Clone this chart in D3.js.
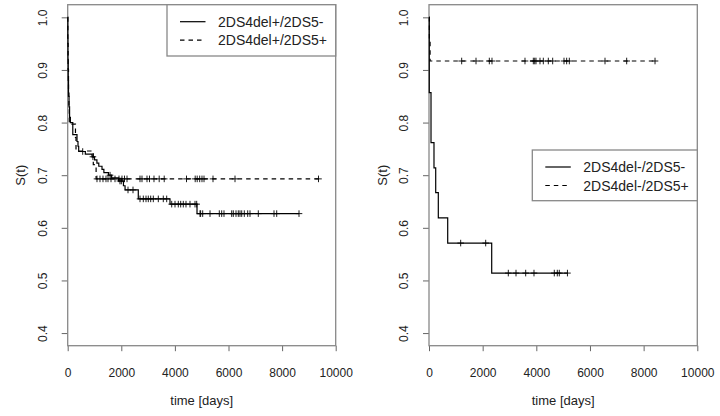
<!DOCTYPE html>
<html>
<head>
<meta charset="utf-8">
<script src="https://cdn.jsdelivr.net/npm/d3@7"></script>
<style>
body { margin: 0; background: #fff; }
text { font-family: "Liberation Sans", Arial, sans-serif; fill: #222; }
</style>
</head>
<body>
<svg width="720" height="416"></svg>
<script>
// tick values
var xTicks = [0, 2000, 4000, 6000, 8000, 10000];
var yTicks = [0.4, 0.5, 0.6, 0.7, 0.8, 0.9, 1.0];

// left panel: 2DS4del+/2DS5-  (solid)
var posNegTime = [0, 5, 10, 20, 30, 50, 70, 100, 190, 347, 384, 410, 657, 907, 1000, 1090, 1160, 1280, 1350, 1520, 1640, 1900, 2080, 2140, 2634, 3817, 4825, 8631];
var posNegSurv = [1, 0.96, 0.92, 0.88, 0.85, 0.83, 0.81, 0.80, 0.777, 0.764, 0.755, 0.745, 0.740, 0.735, 0.729, 0.723, 0.717, 0.711, 0.705, 0.700, 0.695, 0.689, 0.680, 0.672, 0.655, 0.645, 0.627, 0.627];
var posNegCens = [560, 940, 1580, 1950, 2000, 2250, 2437, 2698, 2821, 2922, 3007, 3097, 3194, 3381, 3567, 3694,
  3881, 4004, 4127, 4216, 4313, 4414, 4563, 4750, 4813, 4937, 4960, 5037, 5310, 5657, 5746, 5832, 6119, 6179,
  6280, 6366, 6429, 6493, 6590, 6716, 6802, 7112, 7698, 7799, 8631];

// left panel: 2DS4del+/2DS5+  (dashed)
var posPosTime = [0, 5, 15, 30, 45, 60, 290, 310, 955, 1060, 9358];
var posPosSurv = [1, 0.95, 0.90, 0.86, 0.83, 0.797, 0.772, 0.746, 0.720, 0.693, 0.693];
var posPosCens = [1093, 1205, 1317, 1429, 1504, 1616, 1765, 1914, 2026, 2119, 2213, 2698, 2772, 2959, 3052, 3220,
  3414, 3601, 4433, 4757, 4832, 4925, 5011, 5086, 5422, 6243, 9358];

// right panel: 2DS4del-/2DS5-  (solid)
var negNegTime = [0, 10, 75, 186, 250, 347, 697, 2337, 5160];
var negNegSurv = [1, 0.857, 0.762, 0.714, 0.667, 0.619, 0.571, 0.514, 0.514];
var negNegCens = [1181, 2113, 2956, 3243, 3604, 3913, 4670, 4782, 4856, 5160];

// right panel: 2DS4del-/2DS5+  (dashed)
var negPosTime = [0, 15, 40, 8424];
var negPosSurv = [1, 0.958, 0.917, 0.917];
var negPosCens = [1218, 1752, 2248, 2348, 3578, 3888, 3940, 3988, 4137, 4261, 4447, 4610, 5032, 5131, 5230, 6560, 7368, 8424];

var svg = d3.select("svg");
var top_ = 4.7, bottom = 345.7;

function survAt(times, surv, t) {
  var s = surv[0];
  for (var i = 0; i < times.length; i++) if (times[i] <= t) s = surv[i];
  return s;
}

function panel(left, right, curves, legend) {
  var x = d3.scaleLinear().domain([0, 10000]).range([left, right]);
  var y = d3.scaleLinear().domain([0.376, 1.024]).range([bottom, top_]);
  var g = svg.append("g");

  g.append("g")
      .attr("transform", `translate(0,${bottom})`)
      .call(d3.axisBottom(x).tickValues(xTicks).tickSize(5.5).tickFormat(d3.format("d")))
      .call(a => a.select(".domain").remove())
      .call(a => a.selectAll(".tick line").attr("stroke", "#666"))
      .call(a => a.selectAll(".tick text").attr("y", 31).attr("dy", null)
          .attr("font-size", 12).attr("fill", "#222"));

  g.append("g")
      .attr("transform", `translate(${left},0)`)
      .call(d3.axisLeft(y).tickValues(yTicks).tickSize(6).tickFormat(d3.format(".1f")))
      .call(a => a.select(".domain").remove())
      .call(a => a.selectAll(".tick line").attr("stroke", "#666"))
      .call(a => a.selectAll(".tick text")
          .attr("x", null).attr("dy", null)
          .attr("text-anchor", "middle")
          .attr("transform", "translate(-21,0) rotate(-90)")
          .attr("font-size", 12).attr("fill", "#222"));

  g.append("rect")
      .attr("x", left).attr("y", top_)
      .attr("width", right - left).attr("height", bottom - top_)
      .attr("fill", "none").attr("stroke", "#888").attr("stroke-width", 1.3);

  g.append("text")
      .attr("x", (left + right) / 2).attr("y", 405)
      .attr("text-anchor", "middle").attr("font-size", 13)
      .text("time [days]");
  g.append("text")
      .attr("transform", `translate(${left - 42.5},${(top_ + bottom) / 2}) rotate(-90)`)
      .attr("text-anchor", "middle").attr("font-size", 13)
      .text("S(t)");

  var line = d3.line().curve(d3.curveStepAfter).x(d => x(d[0])).y(d => y(d[1]));

  curves.forEach(c => {
    g.append("path")
        .datum(d3.zip(c.time, c.surv))
        .attr("fill", "none")
        .attr("stroke", "#000")
        .attr("stroke-width", 1.2)
        .attr("stroke-dasharray", c.dash)
        .attr("d", line);
    g.append("path")
        .attr("fill", "none")
        .attr("stroke", "#000")
        .attr("stroke-width", 0.9)
        .attr("d", c.cens.map(t => {
          var px = x(t), py = y(survAt(c.time, c.surv, t));
          return `M${px - 3.3},${py}h6.6M${px},${py - 3.3}v6.6`;
        }).join(""));
  });

  var lg = g.append("g");
  lg.append("rect")
      .attr("x", legend.x).attr("y", legend.y)
      .attr("width", right - legend.x).attr("height", legend.h)
      .attr("fill", "#fff").attr("stroke", "#888").attr("stroke-width", 1.3);
  curves.forEach((c, i) => {
    var ly = legend.y + 17 + i * 18.5;
    lg.append("line")
        .attr("x1", legend.x + 13).attr("x2", legend.x + 38.5)
        .attr("y1", ly).attr("y2", ly)
        .attr("stroke", "#000").attr("stroke-width", 1.2)
        .attr("stroke-dasharray", c.dash);
    lg.append("text")
        .attr("x", legend.x + 51).attr("y", ly + 5)
        .attr("font-size", 14)
        .text(c.name);
  });
}

panel(67.7, 335.7, [
  {name: "2DS4del+/2DS5-", time: posNegTime, surv: posNegSurv, cens: posNegCens, dash: null},
  {name: "2DS4del+/2DS5+", time: posPosTime, surv: posPosSurv, cens: posPosCens, dash: "4.5,4"}
], {x: 167, y: 4.7, h: 51.3});

panel(429, 697.3, [
  {name: "2DS4del-/2DS5-", time: negNegTime, surv: negNegSurv, cens: negNegCens, dash: null},
  {name: "2DS4del-/2DS5+", time: negPosTime, surv: negPosSurv, cens: negPosCens, dash: "4.5,4"}
], {x: 532.3, y: 150, h: 50.7});
</script>
</body>
</html>
